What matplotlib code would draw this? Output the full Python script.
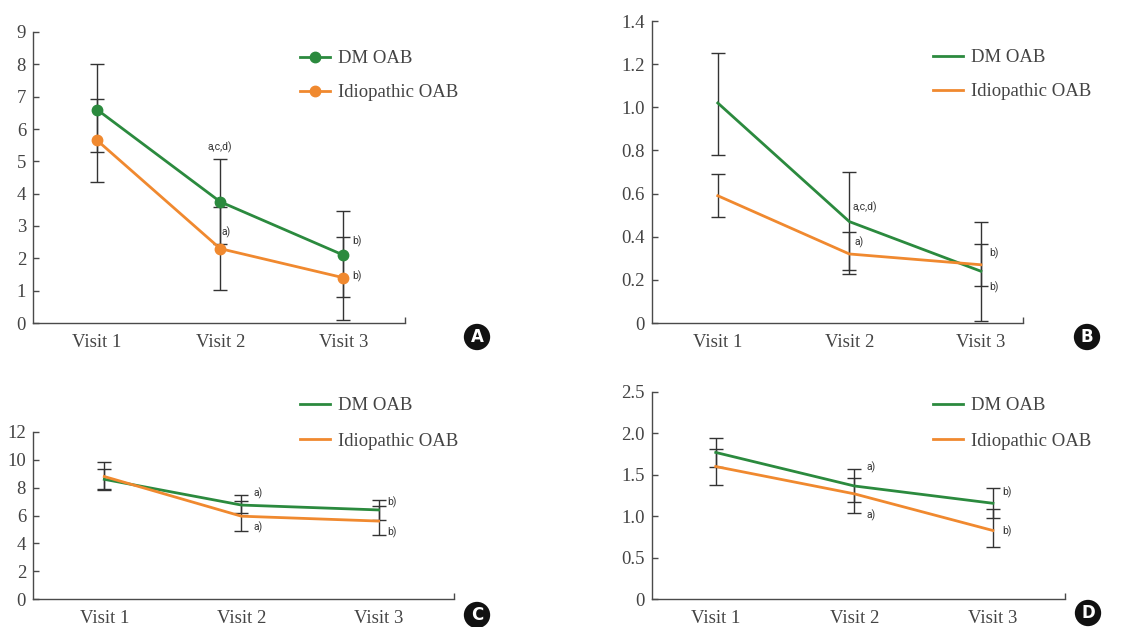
import matplotlib
matplotlib.use("Agg")
import matplotlib.pyplot as plt

visits = ["Visit 1", "Visit 2", "Visit 3"]

# panel A
a_dm = [6.6, 3.75, 2.1]
a_dm_low = [5.3, 2.43, 0.8]
a_dm_high = [8.0, 5.08, 3.45]
a_idio = [5.65, 2.3, 1.4]
a_idio_low = [4.35, 1.03, 0.1]
a_idio_high = [6.93, 3.6, 2.65]
a_ticks = [0, 1, 2, 3, 4, 5, 6, 7, 8, 9]
a_tick_labels = ["0", "1", "2", "3", "4", "5", "6", "7", "8", "9"]
a_notes = [(1, 5.44, "a,c,d)"), (1, 2.81, "a)"), (2, 2.54, "b)"), (2, 1.45, "b)")]

# panel B
b_dm = [1.02, 0.47, 0.24]
b_dm_low = [0.78, 0.245, 0.01]
b_dm_high = [1.25, 0.70, 0.47]
b_idio = [0.59, 0.32, 0.27]
b_idio_low = [0.49, 0.225, 0.17]
b_idio_high = [0.69, 0.42, 0.365]
b_ticks = [0, 0.2, 0.4, 0.6, 0.8, 1.0, 1.2, 1.4]
b_tick_labels = ["0", "0.2", "0.4", "0.6", "0.8", "1.0", "1.2", "1.4"]
b_notes = [(1, 0.538, "a,c,d)"), (1, 0.375, "a)"), (2, 0.324, "b)"), (2, 0.167, "b)")]

# panel C
c_dm = [8.6, 6.75, 6.4]
c_dm_low = [7.85, 6.18, 5.68]
c_dm_high = [9.37, 7.5, 7.09]
c_idio = [8.8, 5.95, 5.6]
c_idio_low = [7.88, 4.91, 4.62]
c_idio_high = [9.84, 7.02, 6.71]
c_ticks = [0, 2, 4, 6, 8, 10, 12]
c_tick_labels = ["0", "2", "4", "6", "8", "10", "12"]
c_notes = [(1, 7.6, "a)"), (1, 5.17, "a)"), (2, 6.97, "b)"), (2, 4.81, "b)")]

# panel D
d_dm = [1.77, 1.365, 1.156]
d_dm_low = [1.59, 1.176, 0.983]
d_dm_high = [1.946, 1.565, 1.336]
d_idio = [1.6, 1.27, 0.827]
d_idio_low = [1.38, 1.035, 0.634]
d_idio_high = [1.81, 1.465, 1.083]
d_ticks = [0, 0.5, 1.0, 1.5, 2.0, 2.5]
d_tick_labels = ["0", "0.5", "1.0", "1.5", "2.0", "2.5"]
d_notes = [(1, 1.594, "a)"), (1, 1.01, "a)"), (2, 1.29, "b)"), (2, 0.82, "b)")]

GREEN = "#2b8a3e"
ORANGE = "#f0892f"
AXIS = "#4a4a4a"
SERIF = "Liberation Serif"
NOTE_FONT = ["Liberation Sans Narrow", "Roboto", "DejaVu Sans"]

W, H = 1140, 627


def px_rect(left, right, top, bottom):
    # pixel box -> figure fraction [l, b, w, h]
    return [left / W, 1 - bottom / H, (right - left) / W, (bottom - top) / H]


def draw_panel(ax, dm, dm_lo, dm_hi, idio, id_lo, id_hi, ticks, tick_labels,
               notes, note_dx, xlim, markers, letter, letter_xy, legend_xy,
               spacing):
    x = list(range(len(visits)))
    mk = "o" if markers else None
    ax.errorbar(x, idio, yerr=[[v - l for v, l in zip(idio, id_lo)],
                               [h - v for v, h in zip(idio, id_hi)]],
                fmt="none", ecolor="#333333", elinewidth=1.0, capsize=4.8,
                capthick=1.0, zorder=2)
    ax.errorbar(x, dm, yerr=[[v - l for v, l in zip(dm, dm_lo)],
                             [h - v for v, h in zip(dm, dm_hi)]],
                fmt="none", ecolor="#333333", elinewidth=1.0, capsize=4.8,
                capthick=1.0, zorder=2)
    ax.plot(x, dm, color=GREEN, lw=2.0, marker=mk, markersize=7.5,
            label="DM OAB", zorder=3)
    ax.plot(x, idio, color=ORANGE, lw=2.0, marker=mk, markersize=7.5,
            label="Idiopathic OAB", zorder=3)

    for (i, yv, txt), dx in zip(notes, note_dx):
        ha = "center" if txt == "a,c,d)" and markers else "left"
        ax.annotate(txt, (i, yv), xytext=(dx, 0), textcoords="offset points",
                    ha=ha, va="center", fontsize=7.5, color="#333333",
                    family=NOTE_FONT)

    ax.set_xlim(*xlim)
    ax.set_ylim(ticks[0], ticks[-1])
    ax.set_yticks(ticks)
    ax.set_yticklabels(tick_labels)
    ax.set_xticks(x)
    ax.set_xticklabels(visits)
    ax.set_xticks([xlim[1]], minor=True)
    for s in ["top", "right"]:
        ax.spines[s].set_visible(False)
    for s in ["left", "bottom"]:
        ax.spines[s].set_color(AXIS)
        ax.spines[s].set_linewidth(1.0)
    ax.tick_params(axis="y", direction="in", length=4.5, width=1.0,
                   color=AXIS, pad=5, labelsize=13.5, labelcolor="#444444")
    ax.tick_params(axis="x", which="major", length=0, pad=8,
                   labelsize=13.5, labelcolor="#444444")
    ax.tick_params(axis="x", which="minor", direction="in", length=4,
                   width=1.0, color=AXIS)
    for lab in ax.get_xticklabels() + ax.get_yticklabels():
        lab.set_family(SERIF)

    leg = ax.legend(loc="upper left", bbox_to_anchor=legend_xy,
                    bbox_transform=ax.figure.transFigure, frameon=False,
                    prop={"family": SERIF, "size": 13.5}, handlelength=1.6,
                    handletextpad=0.45, labelspacing=spacing, borderpad=0,
                    borderaxespad=0)
    for t in leg.get_texts():
        t.set_color("#444444")

    ax.figure.text(letter_xy[0] / W, 1 - letter_xy[1] / H, letter,
                   ha="center", va="center", fontsize=12, fontweight="bold",
                   color="white", family="DejaVu Sans",
                   bbox=dict(boxstyle="circle,pad=0.25", fc="#111111",
                             ec="none"))


fig = plt.figure(figsize=(W / 100, H / 100), dpi=100)
fig.patch.set_facecolor("white")

ax_a = fig.add_axes(px_rect(33, 405, 32, 323))
ax_b = fig.add_axes(px_rect(652, 1023, 21, 323))
ax_c = fig.add_axes(px_rect(33, 454, 432, 599))
ax_d = fig.add_axes(px_rect(652, 1065, 392, 599))

draw_panel(ax_a, a_dm, a_dm_low, a_dm_high, a_idio, a_idio_low, a_idio_high,
           a_ticks, a_tick_labels, a_notes, [0, 1, 6.5, 6.5], (-0.52, 2.5),
           True, "A", (477, 337), (300 / W, 1 - 50 / H), 0.9)
draw_panel(ax_b, b_dm, b_dm_low, b_dm_high, b_idio, b_idio_low, b_idio_high,
           b_ticks, b_tick_labels, b_notes, [2, 3.5, 6, 6], (-0.5, 2.32),
           False, "B", (1087, 337), (933 / W, 1 - 49 / H), 0.9)
draw_panel(ax_c, c_dm, c_dm_low, c_dm_high, c_idio, c_idio_low, c_idio_high,
           c_ticks, c_tick_labels, c_notes, [9, 9, 6.5, 6.5], (-0.52, 2.55),
           False, "C", (477, 615), (300 / W, 1 - 397 / H), 1.0)
draw_panel(ax_d, d_dm, d_dm_low, d_dm_high, d_idio, d_idio_low, d_idio_high,
           d_ticks, d_tick_labels, d_notes, [9, 9, 6.5, 6.5], (-0.46, 2.52),
           False, "D", (1088, 613), (933 / W, 1 - 397 / H), 1.0)

fig.savefig("out.png", dpi=100)
